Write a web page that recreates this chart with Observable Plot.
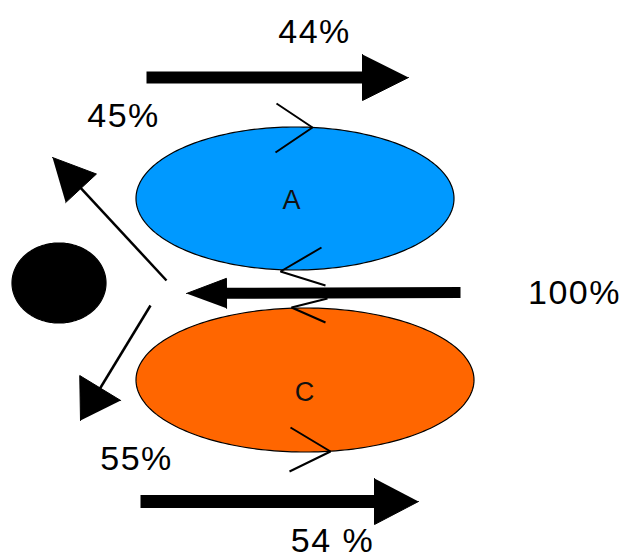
<!DOCTYPE html>
<html>
<head>
<meta charset="utf-8">
<script src="https://cdn.jsdelivr.net/npm/d3@7"></script>
<script src="https://cdn.jsdelivr.net/npm/@observablehq/plot@0.6"></script>
<style>
  html, body { margin: 0; padding: 0; background: #fff; }
  #chart svg { display: block; }
  #chart g.pct text { letter-spacing: 1.5px; }
</style>
</head>
<body>
<div id="chart"></div>
<script>
// Ellipses: name, centre, radii, fill
const ellipseNames = ["A", "C", "dot"];
const ellipseCx = [295, 305, 59];
const ellipseCy = [198.5, 380, 283];
const ellipseRx = [159, 169, 47];
const ellipseRy = [71.5, 72, 40];
const ellipseFill = ["#0099ff", "#ff6600", "#000000"];

// Arrows: start, tip, shaft width, head length, head half-width
const arrowX1 = [146, 460, 140, 166, 150];
const arrowY1 = [77, 292, 501, 280, 305];
const arrowX2 = [408, 186, 418, 52, 80];
const arrowY2 = [77, 293, 501, 157, 420];
const arrowShaft = [12, 11, 13, 2.5, 2.5];
const arrowHeadLen = [46, 40, 44, 42, 38];
const arrowHeadHalf = [23, 15, 23, 21, 24];

// Direction chevrons on the ellipse edges (three points each)
const chevronX = [[276, 312, 275], [321, 280, 325], [327, 291, 325], [290, 330, 289]];
const chevronY = [[103, 127, 152], [247, 271, 285], [298, 307, 322], [427, 451, 471]];

// Labels
const labelText = ["44%", "45%", "100%", "55%", "54 %"];
const labelX = [314, 123, 574, 136, 332];
const labelY = [32, 116, 293, 459, 541];
const letterText = ["A", "C"];
const letterX = [291, 304];
const letterY = [200, 392];

// ---- build tables ----
const ellipsePts = [];
ellipseNames.forEach((name, i) => {
  const n = 120;
  for (let k = 0; k <= n; k++) {
    const t = Math.PI * k / n;
    const dx = ellipseRx[i] * Math.cos(t);
    const dy = ellipseRy[i] * Math.sin(t);
    ellipsePts.push({name, fill: ellipseFill[i], x: ellipseCx[i] + dx, y1: ellipseCy[i] - dy, y2: ellipseCy[i] + dy});
  }
});

const shafts = [];
const heads = [];
arrowX1.forEach((_, i) => {
  const x1 = arrowX1[i], y1 = arrowY1[i], x2 = arrowX2[i], y2 = arrowY2[i];
  const L = Math.hypot(x2 - x1, y2 - y1);
  const ux = (x2 - x1) / L, uy = (y2 - y1) / L;
  const bx = x2 - ux * arrowHeadLen[i], by = y2 - uy * arrowHeadLen[i];
  shafts.push({x1, y1, x2: bx + ux * 2, y2: by + uy * 2, w: arrowShaft[i]});
  const px = -uy, py = ux, h = arrowHeadHalf[i];
  heads.push({id: i, x: x2, y: y2});
  heads.push({id: i, x: bx + px * h, y: by + py * h});
  heads.push({id: i, x: bx - px * h, y: by - py * h});
});

const chevrons = [];
chevronX.forEach((xs, i) => xs.forEach((x, j) => chevrons.push({id: i, x, y: chevronY[i][j]})));

const labels = labelText.map((t, i) => ({t, x: labelX[i], y: labelY[i]}));
const letters = letterText.map((t, i) => ({t, x: letterX[i], y: letterY[i]}));

const chart = Plot.plot({
  width: 624,
  height: 560,
  margin: 0,
  x: {domain: [0, 624], axis: null},
  y: {domain: [0, 560], range: [0, 560], axis: null},
  style: {fontFamily: "'Liberation Sans', Arial, sans-serif", background: "#fff"},
  marks: [
    Plot.areaY(ellipsePts, {x: "x", y1: "y1", y2: "y2", z: "name", fill: "fill", stroke: "#000", strokeWidth: 1.2, curve: "linear"}),
    Plot.link(shafts, {x1: "x1", y1: "y1", x2: "x2", y2: "y2", stroke: "#000", strokeWidth: "w", strokeLinecap: "butt"}),
    Plot.line(heads, {x: "x", y: "y", z: "id", fill: "#000", stroke: "#000", strokeWidth: 1, strokeLinejoin: "miter"}),
    Plot.line(chevrons, {x: "x", y: "y", z: "id", stroke: "#000", strokeWidth: 2, strokeLinejoin: "miter", strokeLinecap: "butt"}),
    Plot.text(labels, {x: "x", y: "y", text: "t", fontSize: 34, fill: "#000", textAnchor: "middle", className: "pct"}),
    Plot.text(letters, {x: "x", y: "y", text: "t", fontSize: 27, fill: "#111", textAnchor: "middle"})
  ]
});
document.getElementById("chart").appendChild(chart);
</script>
</body>
</html>
